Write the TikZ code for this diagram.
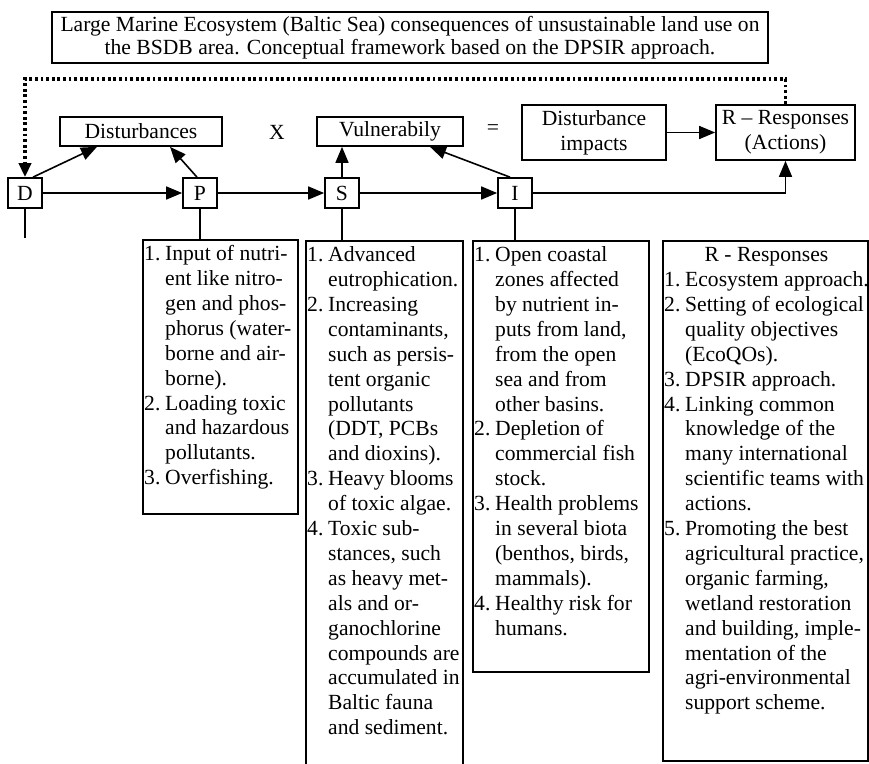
\documentclass[tikz,border=0pt]{standalone}
\usepackage{fontspec}
\setmainfont{Liberation Serif}
\usetikzlibrary{arrows.meta,positioning}
\newcommand{\num}[1]{\makebox[21pt][l]{#1}}
\tikzset{
	box/.style={draw, line width=1.7pt, inner sep=0pt, align=center},
	letter/.style={box, minimum width=34pt, minimum height=30pt},
	listbox/.style={draw, line width=1.7pt, inner sep=0pt, anchor=north west},
	listtext/.style={inner sep=0pt, anchor=north west, align=left},
	link/.style={line width=1.6pt},
	arr/.style={link, -{Triangle[length=16pt,width=13pt]}},
	back/.style={line width=3.6pt, dash pattern=on 2.8pt off 2.8pt, -{Triangle[length=14pt,width=12pt]}}
}
\begin{document}
\begin{tikzpicture}[x=1pt,y=-1pt,font=\fontsize{21.6}{24.9}\selectfont]
		\useasboundingbox (0,0) rectangle (869,763);
		\clip (0,0) rectangle (869,763);
		\node[box, minimum width=716pt, minimum height=51pt, font=\fontsize{21.6}{23.5}\selectfont] (title) at (410,37.5) {Large Marine Ecosystem (Baltic Sea) consequences of unsustainable land use on\\the BSDB area. Conceptual framework based on the DPSIR approach.};
		\node[box, minimum width=162pt, minimum height=29pt] (dist) at (141,131.5) {Disturbances};
		\node (times) at (277,132) {X};
		\node[box, minimum width=146pt, minimum height=29pt] (vuln) at (390,131.5) {Vulnerabily};
		\node (equals) at (493,130) {=};
		\node[box, minimum width=144pt, minimum height=55pt] (impact) at (594,132.5) {Disturbance\\impacts};
		\node[box, minimum width=139pt, minimum height=55pt] (resp) at (785.5,132.5) {R -- Responses\\(Actions)};
		\node[letter] (D) at (25,193) {D};
		\node[letter] (P) at (200,193) {P};
		\node[letter] (S) at (342,193) {S};
		\node[letter] (I) at (515,193) {I};
		\coordinate (Dend) at (25,238);
		\node[listbox, minimum width=155pt, minimum height=274pt] (Pbox) at (142,239) {};
		\node[listbox, minimum width=157pt, minimum height=560pt] (Sbox) at (305,240) {};
		\node[listbox, minimum width=176pt, minimum height=431pt] (Ibox) at (472,240) {};
		\node[listbox, minimum width=205pt, minimum height=520pt] (Rbox) at (662,240) {};
		\node[listtext] (Ptext) at ([shift={(2pt,-4pt)}]Pbox.north west) {\begin{tabular}{@{}l@{}l@{}}
			\num{1.}& Input of nutri-\\
			& ent like nitro-\\
			& gen and phos-\\
			& phorus (water-\\
			& borne and air-\\
			& borne).\\
			\num{2.}& Loading toxic\\
			& and hazardous\\
			& pollutants.\\
			\num{3.}& Overfishing.
		\end{tabular}};
		\node[listtext] (Stext) at ([shift={(2pt,-4pt)}]Sbox.north west) {\begin{tabular}{@{}l@{}l@{}}
			\num{1.}& Advanced\\
			& eutrophication.\\
			\num{2.}& Increasing\\
			& contaminants,\\
			& such as persis-\\
			& tent organic\\
			& pollutants\\
			& (DDT, PCBs\\
			& and dioxins).\\
			\num{3.}& Heavy blooms\\
			& of toxic algae.\\
			\num{4.}& Toxic sub-\\
			& stances, such\\
			& as heavy met-\\
			& als and or-\\
			& ganochlorine\\
			& compounds are\\
			& accumulated in\\
			& Baltic fauna\\
			& and sediment.
		\end{tabular}};
		\node[listtext] (Itext) at ([shift={(2pt,-4pt)}]Ibox.north west) {\begin{tabular}{@{}l@{}l@{}}
			\num{1.}& Open coastal\\
			& zones affected\\
			& by nutrient in-\\
			& puts from land,\\
			& from the open\\
			& sea and from\\
			& other basins.\\
			\num{2.}& Depletion of\\
			& commercial fish\\
			& stock.\\
			\num{3.}& Health problems\\
			& in several biota\\
			& (benthos, birds,\\
			& mammals).\\
			\num{4.}& Healthy risk for\\
			& humans.
		\end{tabular}};
		\node[listtext] (Rtext) at ([shift={(2pt,-4pt)}]Rbox.north west) {\begin{tabular}{@{}l@{}l@{}}
			\multicolumn{2}{c}{R - Responses}\\
			\num{1.}& Ecosystem approach.\\
			\num{2.}& Setting of ecological\\
			& quality objectives\\
			& (EcoQOs).\\
			\num{3.}& DPSIR approach.\\
			\num{4.}& Linking common\\
			& knowledge of the\\
			& many international\\
			& scientific teams with\\
			& actions.\\
			\num{5.}& Promoting the best\\
			& agricultural practice,\\
			& organic farming,\\
			& wetland restoration\\
			& and building, imple-\\
			& mentation of the\\
			& agri-environmental\\
			& support scheme.
		\end{tabular}};
		\draw[arr] (D) -- (P);
		\draw[arr] (P) -- (S);
		\draw[arr] (S) -- (I);
		\draw[arr] (I.east) -| (resp.south);
		\draw[arr] (impact) -- (resp);
		\draw[arr] ([xshift=8pt]D.north) -- ([xshift=-44pt]dist.south);
		\draw[arr] ([xshift=-3pt]P.north) -- ([xshift=29pt]dist.south);
		\draw[arr] (S.north) -- (S.north |- vuln.south);
		\draw[arr] ([xshift=-5pt]I.north) -- ([xshift=40pt]vuln.south);
		\draw[link] (D.south) -- (Dend);
		\draw[link] (P.south) -- (P.south |- Pbox.north);
		\draw[link] (S.south) -- (S.south |- Sbox.north);
		\draw[link] (I.south) -- (I.south |- Ibox.north);
		\draw[back] (resp.north) -- ++(0,-25) -| (D.north);
\end{tikzpicture}
\end{document}
